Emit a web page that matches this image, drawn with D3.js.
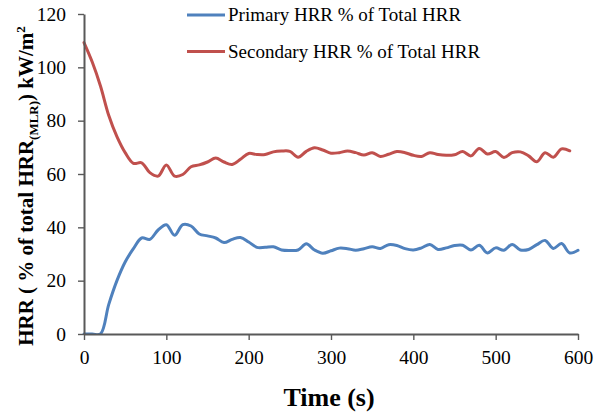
<!DOCTYPE html>
<html>
<head>
<meta charset="utf-8">
<title>HRR percentage</title>
<script src="https://d3js.org/d3.v7.min.js"></script>
<style>
  body { margin: 0; background: #fff; }
  svg text { font-family: "Liberation Serif", "Times New Roman", serif; fill: #000; }
</style>
</head>
<body>
<svg id="chart" width="594" height="416"></svg>
<script>
// time in seconds, 10 s steps
var timePrimary = d3.range(0, 601, 10);
var primary = [0, 0, 0, 11, 20, 27, 32, 36, 35.5, 39, 41, 37, 41, 40.5, 37.5, 36.8,
  36, 34.3, 35.5, 36.2, 34.5, 32.5, 32.5, 32.7, 31.5, 31.3, 31.5, 33.8, 31.5, 30.3,
  31.2, 32.2, 32, 31.4, 32, 32.7, 32.1, 33.5, 33.2, 32, 31.5, 32.3, 33.6, 31.7, 32.3,
  33.2, 33.3, 31.5, 33.3, 30.4, 32.3, 31.4, 33.6, 31.5, 31.7, 33.5, 35.1, 32.1, 33.9,
  30.4, 31.4];

var timeSecondary = d3.range(0, 591, 10);
var secondary = [109.3, 102, 93, 82, 74, 68, 64, 64.2, 60.5, 59.2, 63.4, 59.2, 59.8,
  62.7, 63.4, 64.5, 66, 64.5, 63.6, 65.5, 67.7, 67.3, 67.3, 68.3, 68.6, 68.5, 66.3,
  68.5, 69.8, 69, 67.8, 68, 68.6, 68, 67.1, 68, 66.6, 67.4, 68.4, 68, 67, 66.6, 68,
  67.3, 67, 67.2, 68.4, 66.8, 69.6, 67.5, 68.4, 66.2, 68, 68.3, 66.8, 64.6, 68, 66.3,
  69.4, 68.7];

var xTicks = [0, 100, 200, 300, 400, 500, 600];
var yTicks = [0, 20, 40, 60, 80, 100, 120];
var seriesNames = ["Primary HRR % of Total HRR", "Secondary HRR % of Total HRR"];
var seriesColors = ["#4F81BD", "#C0504D"];

var svg = d3.select("#chart");

var x = d3.scaleLinear().domain([0, 600]).range([84, 578]);
var y = d3.scaleLinear().domain([0, 120]).range([334, 14]);

// keep the lines inside the plot area like Excel does
svg.append("clipPath").attr("id", "plot")
  .append("rect")
  .attr("x", x(0) - 2).attr("y", 0)
  .attr("width", x(600) - x(0) + 8).attr("height", y(0));

var line = d3.line()
  .x(d => x(d[0]))
  .y(d => y(d[1]))
  .curve(d3.curveCatmullRom.alpha(0.5));

var series = [
  d3.zip(timePrimary, primary),
  d3.zip(timeSecondary, secondary)
];

svg.append("g").attr("clip-path", "url(#plot)")
  .selectAll("path.series")
  .data(series)
  .enter().append("path")
  .attr("class", "series")
  .attr("d", d => line(d))
  .attr("fill", "none")
  .attr("stroke", (d, i) => seriesColors[i])
  .attr("stroke-width", 3)
  .attr("stroke-linejoin", "round")
  .attr("stroke-linecap", "round");

// axes
var xAxis = svg.append("g")
  .attr("transform", "translate(0,334)")
  .call(d3.axisBottom(x).tickValues(xTicks).tickSize(6).tickSizeOuter(0).tickPadding(10));
var yAxis = svg.append("g")
  .attr("transform", "translate(84,0)")
  .call(d3.axisLeft(y).tickValues(yTicks).tickSize(6).tickSizeOuter(0).tickPadding(12));

[xAxis, yAxis].forEach(function(a) {
  a.attr("font-family", null);
  a.select(".domain").attr("stroke", "#595959").attr("stroke-width", 2);
  a.selectAll(".tick line").attr("stroke", "#595959").attr("stroke-width", 1.4);
  a.selectAll(".tick text").attr("font-size", 19.5);
});

// axis titles
svg.append("text")
  .attr("x", 329).attr("y", 406)
  .attr("text-anchor", "middle")
  .attr("font-size", 26).attr("font-weight", "bold")
  .text("Time (s)");

var yLab = svg.append("text")
  .attr("transform", "translate(33,186) rotate(-90)")
  .attr("text-anchor", "middle")
  .attr("font-size", 21).attr("font-weight", "bold");
yLab.append("tspan").text("HRR ( % of total HRR");
yLab.append("tspan").attr("font-size", 13).attr("dy", 5).text("(MLR)");
yLab.append("tspan").attr("dy", -5).text(") kW/m");
yLab.append("tspan").attr("font-size", 13).attr("dy", -8).text("2");

// legend
var legend = svg.selectAll("g.legend")
  .data(seriesNames)
  .enter().append("g")
  .attr("class", "legend")
  .attr("transform", (d, i) => "translate(187," + (15 + i * 36.5) + ")");
legend.append("line")
  .attr("x1", 0).attr("x2", 38)
  .attr("stroke", (d, i) => seriesColors[i])
  .attr("stroke-width", 3);
legend.append("text")
  .attr("x", 41).attr("y", 6)
  .attr("font-size", 19)
  .text(d => d);
</script>
</body>
</html>
